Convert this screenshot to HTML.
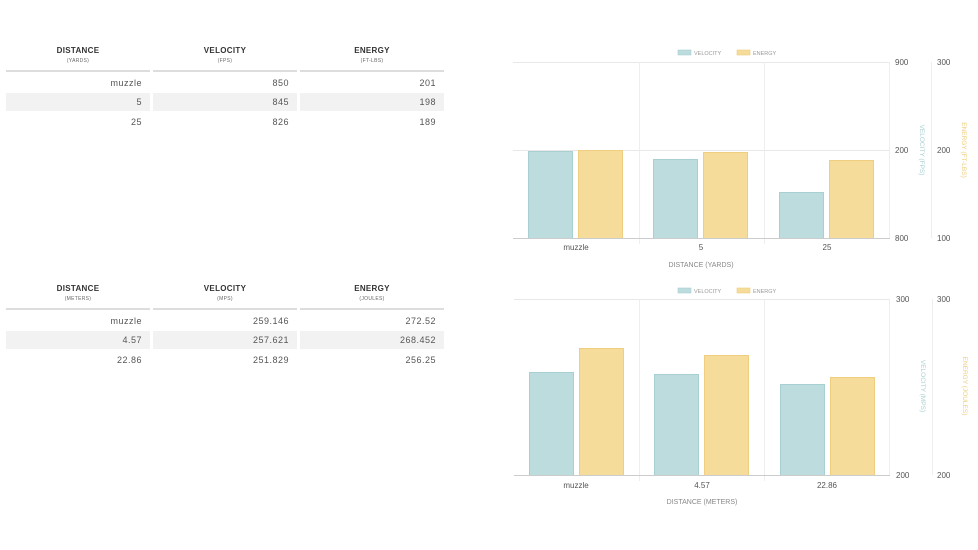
<!DOCTYPE html>
<html><head><meta charset="utf-8"><style>
body{margin:0;background:#fff;width:978px;height:550px;overflow:hidden;font-family:"Liberation Sans",sans-serif;position:relative}
.t{position:absolute;left:6px;width:440px}
.h{position:absolute;text-align:center;width:144px;color:#333;font-weight:bold;font-size:8px;letter-spacing:.3px;top:1px}
.h small{display:block;font-size:5px;color:#666;margin-top:3px;font-weight:normal}
.line{position:absolute;height:2px;background:#ddd;width:144px}
.c{position:absolute;width:136px;text-align:right;font-size:9px;color:#555;letter-spacing:.5px;height:18px;line-height:18px;padding-right:8px}
.s{background:#f2f2f2}
</style></head><body>

<div class="t" style="top:45px">
<div class="h" style="left:0">DISTANCE<small>(YARDS)</small></div>
<div class="h" style="left:147px">VELOCITY<small>(FPS)</small></div>
<div class="h" style="left:294px">ENERGY<small>(FT-LBS)</small></div>
<div class="line" style="left:0;top:25px"></div><div class="line" style="left:147px;top:25px"></div><div class="line" style="left:294px;top:25px"></div>
<div class="c" style="left:0;top:29px">muzzle</div><div class="c" style="left:147px;top:29px">850</div><div class="c" style="left:294px;top:29px">201</div>
<div class="c s" style="left:0;top:48px">5</div><div class="c s" style="left:147px;top:48px">845</div><div class="c s" style="left:294px;top:48px">198</div>
<div class="c" style="left:0;top:68px">25</div><div class="c" style="left:147px;top:68px">826</div><div class="c" style="left:294px;top:68px">189</div>
</div>

<div class="t" style="top:283px">
<div class="h" style="left:0">DISTANCE<small>(METERS)</small></div>
<div class="h" style="left:147px">VELOCITY<small>(MPS)</small></div>
<div class="h" style="left:294px">ENERGY<small>(JOULES)</small></div>
<div class="line" style="left:0;top:25px"></div><div class="line" style="left:147px;top:25px"></div><div class="line" style="left:294px;top:25px"></div>
<div class="c" style="left:0;top:29px">muzzle</div><div class="c" style="left:147px;top:29px">259.146</div><div class="c" style="left:294px;top:29px">272.52</div>
<div class="c s" style="left:0;top:48px">4.57</div><div class="c s" style="left:147px;top:48px">257.621</div><div class="c s" style="left:294px;top:48px">268.452</div>
<div class="c" style="left:0;top:68px">22.86</div><div class="c" style="left:147px;top:68px">251.829</div><div class="c" style="left:294px;top:68px">256.25</div>
</div>

<svg width="978" height="550" style="position:absolute;left:0;top:0" font-family="Liberation Sans, sans-serif">
<g id="c1">
<rect x="678" y="50" width="13" height="5" fill="#bcdcdd" stroke="#a8d0d2" stroke-width="0.6"/>
<text x="694" y="55" font-size="5.5" fill="#999">VELOCITY</text>
<rect x="737" y="50" width="13" height="5" fill="#f5dc9a" stroke="#efcf7f" stroke-width="0.6"/>
<text x="753" y="55" font-size="5.5" fill="#999">ENERGY</text>
<line x1="513" y1="62.5" x2="890" y2="62.5" stroke="#e8e8e8"/>
<line x1="513" y1="150.5" x2="890" y2="150.5" stroke="#e8e8e8"/>
<line x1="639.5" y1="62" x2="639.5" y2="244" stroke="#eee"/>
<line x1="764.5" y1="62" x2="764.5" y2="244" stroke="#eee"/>
<line x1="889.5" y1="62" x2="889.5" y2="238" stroke="#eee"/>
<line x1="931.5" y1="62" x2="931.5" y2="238" stroke="#eee"/>
<rect x="528.5" y="151.5" width="44" height="87" fill="#bcdcdd" stroke="#a8d0d2"/>
<rect x="578.5" y="150.5" width="44" height="88" fill="#f5dc9a" stroke="#efcf7f"/>
<rect x="653.5" y="159.5" width="44" height="79" fill="#bcdcdd" stroke="#a8d0d2"/>
<rect x="703.5" y="152.5" width="44" height="86" fill="#f5dc9a" stroke="#efcf7f"/>
<rect x="779.5" y="192.5" width="44" height="46" fill="#bcdcdd" stroke="#a8d0d2"/>
<rect x="829.5" y="160.5" width="44" height="78" fill="#f5dc9a" stroke="#efcf7f"/>
<line x1="513" y1="238.5" x2="890" y2="238.5" stroke="#ccc"/>
<g font-size="8" fill="#555" text-anchor="middle"><text x="576" y="250">muzzle</text><text x="701" y="250">5</text><text x="827" y="250">25</text></g>
<text x="701" y="267" font-size="7" fill="#888" text-anchor="middle">DISTANCE (YARDS)</text>
<g font-size="8" fill="#555"><text x="895" y="65">900</text><text x="895" y="153">200</text><text x="895" y="241">800</text>
<text x="937" y="65">300</text><text x="937" y="153">200</text><text x="937" y="241">100</text></g>
<text transform="translate(920,150) rotate(90)" font-size="6.5" fill="#a8d0d2" text-anchor="middle">VELOCITY (FPS)</text>
<text transform="translate(962,150) rotate(90)" font-size="6.5" fill="#efcf7f" text-anchor="middle">ENERGY (FT-LBS)</text>
</g>
<g id="c2">
<rect x="678" y="288" width="13" height="5" fill="#bcdcdd" stroke="#a8d0d2" stroke-width="0.6"/>
<text x="694" y="293" font-size="5.5" fill="#999">VELOCITY</text>
<rect x="737" y="288" width="13" height="5" fill="#f5dc9a" stroke="#efcf7f" stroke-width="0.6"/>
<text x="753" y="293" font-size="5.5" fill="#999">ENERGY</text>
<line x1="514" y1="299.5" x2="890" y2="299.5" stroke="#e8e8e8"/>
<line x1="639.5" y1="299" x2="639.5" y2="481" stroke="#eee"/>
<line x1="764.5" y1="299" x2="764.5" y2="481" stroke="#eee"/>
<line x1="889.5" y1="299" x2="889.5" y2="475" stroke="#eee"/>
<line x1="932.5" y1="299" x2="932.5" y2="475" stroke="#eee"/>
<rect x="529.5" y="372.5" width="44" height="103" fill="#bcdcdd" stroke="#a8d0d2"/>
<rect x="579.5" y="348.5" width="44" height="127" fill="#f5dc9a" stroke="#efcf7f"/>
<rect x="654.5" y="374.5" width="44" height="101" fill="#bcdcdd" stroke="#a8d0d2"/>
<rect x="704.5" y="355.5" width="44" height="120" fill="#f5dc9a" stroke="#efcf7f"/>
<rect x="780.5" y="384.5" width="44" height="91" fill="#bcdcdd" stroke="#a8d0d2"/>
<rect x="830.5" y="377.5" width="44" height="98" fill="#f5dc9a" stroke="#efcf7f"/>
<line x1="514" y1="475.5" x2="890" y2="475.5" stroke="#ccc"/>
<g font-size="8" fill="#555" text-anchor="middle"><text x="576" y="488">muzzle</text><text x="702" y="488">4.57</text><text x="827" y="488">22.86</text></g>
<text x="702" y="504" font-size="7" fill="#888" text-anchor="middle">DISTANCE (METERS)</text>
<g font-size="8" fill="#555"><text x="896" y="302">300</text><text x="896" y="478">200</text>
<text x="937" y="302">300</text><text x="937" y="478">200</text></g>
<text transform="translate(921,386) rotate(90)" font-size="6.5" fill="#a8d0d2" text-anchor="middle">VELOCITY (MPS)</text>
<text transform="translate(963,386) rotate(90)" font-size="6.5" fill="#efcf7f" text-anchor="middle">ENERGY (JOULES)</text>
</g>
</svg>
</body></html>
